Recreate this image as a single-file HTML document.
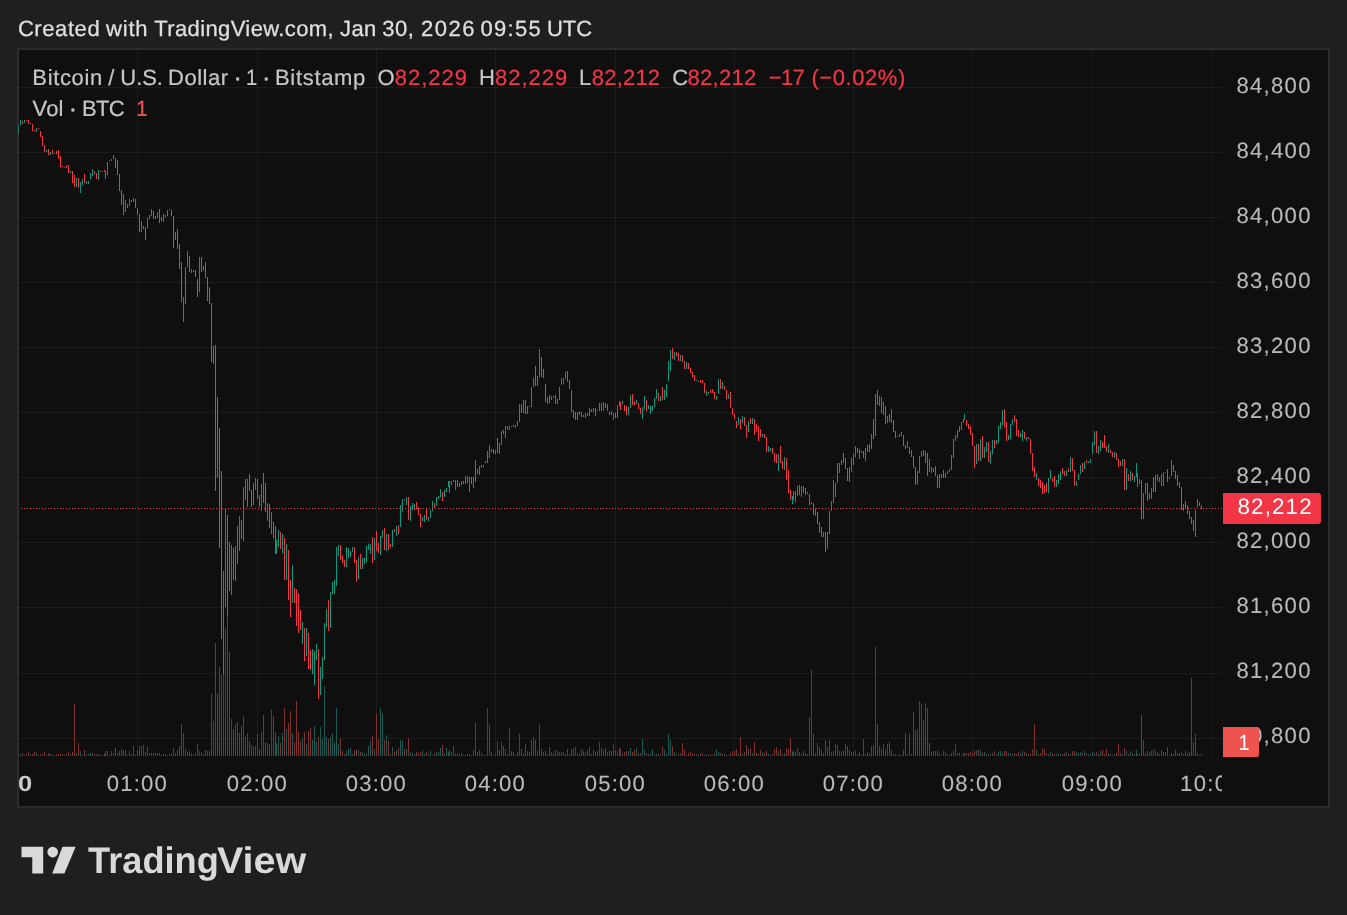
<!DOCTYPE html>
<html lang="en">
<head>
<meta charset="utf-8">
<title>BTCUSD chart - TradingView</title>
<style>
html,body{margin:0;padding:0;background:#1f1f1f;}
body{width:1347px;height:915px;overflow:hidden;position:relative;font-family:"Liberation Sans",sans-serif;}
svg{position:absolute;left:0;top:0;display:block;}
svg text{font-family:"Liberation Sans",sans-serif;white-space:pre;text-rendering:geometricPrecision;stroke-linejoin:round;}
</style>
</head>
<body>
<svg width="1347" height="915" viewBox="0 0 1347 915" role="img" aria-label="BTCUSD 1 minute candlestick chart">
<rect x="17" y="48" width="1313" height="760" fill="#2c2c2c"/>
<rect x="19" y="50" width="1309" height="756" fill="#0f0f0f"/>
<path d="M19 87.5H1222M19 152.5H1222M19 217.5H1222M19 282.5H1222M19 347.5H1222M19 412.5H1222M19 477.5H1222M19 542.5H1222M19 607.5H1222M19 673.5H1222M19 738.5H1222" stroke="#fff" stroke-opacity="0.055" stroke-width="1" fill="none" shape-rendering="crispEdges"/>
<path d="M137.5 50V757M257.5 50V757M376.5 50V757M495.5 50V757M615.5 50V757M734.5 50V757M853.5 50V757M972.5 50V757M1092.5 50V757M1211.5 50V757" stroke="#fff" stroke-opacity="0.055" stroke-width="1" fill="none" shape-rendering="crispEdges"/>
<path d="M22.5 753V756M26.5 754V756M28.5 752V756M32.5 754V756M34.5 752V756M38.5 755V756M40.5 754V756M42.5 754V756M44.5 752V756M48.5 753V756M52.5 755V756M56.5 754V756M58.5 754V756M60.5 754V756M62.5 754V756M66.5 754V756M68.5 752V756M72.5 752V756M74.5 704V756M78.5 743V756M84.5 750V756M94.5 754V756M96.5 754V756M102.5 755V756M104.5 754V756M105.5 751V756M113.5 753V756M115.5 748V756M117.5 753V756M119.5 751V756M121.5 749V756M123.5 750V756M131.5 754V756M135.5 755V756M137.5 750V756M139.5 746V756M145.5 752V756M153.5 753V756M159.5 753V756M161.5 755V756M165.5 754V756M169.5 754V756M171.5 754V756M173.5 748V756M175.5 753V756M177.5 750V756M179.5 746V756M181.5 724V756M189.5 751V756M193.5 755V756M195.5 753V756M197.5 744V756M201.5 752V756M205.5 750V756M207.5 751V756M209.5 751V756M211.5 694V756M215.5 643V756M217.5 693V756M219.5 667V756M221.5 675V756M227.5 610V756M229.5 652V756M233.5 729V756M241.5 726V756M249.5 741V756M251.5 745V756M257.5 734V756M259.5 749V756M263.5 715V756M265.5 742V756M269.5 744V756M273.5 716V756M275.5 732V756M280.5 743V756M284.5 708V756M288.5 723V756M290.5 711V756M294.5 742V756M296.5 701V756M298.5 732V756M300.5 742V756M304.5 732V756M308.5 731V756M310.5 728V756M318.5 737V756M328.5 739V756M340.5 738V756M342.5 751V756M344.5 754V756M354.5 750V756M356.5 750V756M360.5 752V756M372.5 736V756M376.5 714V756M378.5 739V756M384.5 740V756M388.5 741V756M390.5 754V756M394.5 752V756M398.5 748V756M404.5 749V756M408.5 738V756M416.5 752V756M418.5 753V756M420.5 752V756M426.5 752V756M434.5 753V756M442.5 745V756M457.5 753V756M463.5 755V756M467.5 754V756M471.5 755V756M493.5 755V756M497.5 741V756M503.5 746V756M513.5 752V756M521.5 749V756M525.5 744V756M535.5 740V756M541.5 749V756M543.5 752V756M545.5 751V756M549.5 747V756M555.5 750V756M567.5 749V756M569.5 754V756M571.5 749V756M573.5 748V756M575.5 747V756M579.5 754V756M581.5 749V756M583.5 751V756M591.5 754V756M595.5 752V756M597.5 751V756M601.5 748V756M605.5 748V756M607.5 752V756M609.5 751V756M611.5 751V756M615.5 750V756M620.5 749V756M624.5 752V756M626.5 751V756M632.5 752V756M634.5 750V756M638.5 753V756M640.5 753V756M646.5 753V756M658.5 754V756M662.5 747V756M672.5 746V756M676.5 755V756M678.5 754V756M682.5 743V756M684.5 750V756M688.5 753V756M690.5 752V756M692.5 754V756M694.5 754V756M698.5 755V756M700.5 754V756M702.5 753V756M704.5 755V756M710.5 754V756M712.5 755V756M714.5 753V756M720.5 753V756M724.5 754V756M726.5 755V756M730.5 753V756M732.5 751V756M734.5 751V756M736.5 749V756M740.5 737V756M744.5 752V756M746.5 745V756M750.5 748V756M754.5 742V756M756.5 753V756M758.5 754V756M760.5 750V756M764.5 753V756M766.5 751V756M772.5 754V756M774.5 749V756M776.5 747V756M780.5 749V756M782.5 754V756M786.5 748V756M788.5 749V756M790.5 738V756M793.5 751V756M799.5 752V756M803.5 751V756M805.5 753V756M807.5 754V756M809.5 717V756M813.5 734V756M817.5 743V756M819.5 747V756M821.5 750V756M825.5 740V756M843.5 751V756M845.5 744V756M847.5 746V756M857.5 754V756M859.5 752V756M861.5 755V756M863.5 739V756M867.5 752V756M873.5 745V756M877.5 724V756M881.5 749V756M885.5 750V756M889.5 742V756M893.5 754V756M895.5 754V756M901.5 755V756M903.5 750V756M905.5 733V756M909.5 734V756M911.5 754V756M913.5 712V756M915.5 730V756M925.5 703V756M927.5 708V756M929.5 743V756M931.5 752V756M935.5 751V756M937.5 750V756M941.5 755V756M943.5 751V756M966.5 753V756M968.5 753V756M970.5 752V756M972.5 753V756M974.5 751V756M978.5 750V756M982.5 753V756M988.5 754V756M994.5 751V756M1004.5 751V756M1006.5 751V756M1014.5 753V756M1016.5 754V756M1018.5 752V756M1024.5 752V756M1028.5 754V756M1030.5 754V756M1032.5 749V756M1034.5 724V756M1038.5 754V756M1040.5 753V756M1042.5 748V756M1044.5 749V756M1046.5 753V756M1052.5 754V756M1054.5 754V756M1062.5 754V756M1064.5 753V756M1068.5 754V756M1072.5 751V756M1074.5 751V756M1082.5 753V756M1086.5 753V756M1096.5 752V756M1102.5 750V756M1104.5 754V756M1106.5 749V756M1110.5 754V756M1112.5 755V756M1116.5 753V756M1118.5 744V756M1120.5 753V756M1124.5 748V756M1128.5 754V756M1132.5 753V756M1137.5 754V756M1141.5 715V756M1147.5 751V756M1153.5 749V756M1161.5 750V756M1167.5 747V756M1173.5 754V756M1175.5 750V756M1177.5 753V756M1179.5 753V756M1181.5 752V756M1185.5 751V756M1187.5 753V756M1189.5 752V756M1191.5 678V756M1193.5 742V756M1199.5 755V756M1201.5 754V756" stroke="#803230" stroke-width="1" fill="none" shape-rendering="crispEdges"/>
<path d="M18.5 755V756M20.5 754V756M24.5 755V756M30.5 754V756M36.5 753V756M46.5 755V756M50.5 754V756M54.5 755V756M64.5 755V756M70.5 754V756M76.5 753V756M80.5 751V756M82.5 755V756M86.5 754V756M88.5 754V756M90.5 753V756M92.5 753V756M98.5 754V756M100.5 755V756M107.5 751V756M109.5 755V756M111.5 751V756M125.5 750V756M127.5 755V756M129.5 751V756M133.5 746V756M141.5 746V756M143.5 745V756M147.5 747V756M149.5 753V756M151.5 753V756M155.5 753V756M157.5 753V756M163.5 754V756M167.5 755V756M183.5 733V756M185.5 749V756M187.5 752V756M191.5 753V756M199.5 751V756M203.5 754V756M213.5 721V756M223.5 660V756M225.5 628V756M231.5 719V756M235.5 724V756M237.5 722V756M239.5 733V756M243.5 716V756M245.5 737V756M247.5 733V756M253.5 746V756M255.5 746V756M261.5 732V756M267.5 743V756M271.5 710V756M276.5 743V756M278.5 736V756M282.5 733V756M286.5 729V756M292.5 733V756M302.5 738V756M306.5 744V756M312.5 740V756M314.5 726V756M316.5 742V756M320.5 727V756M322.5 739V756M324.5 686V756M326.5 737V756M330.5 737V756M332.5 733V756M334.5 742V756M336.5 708V756M338.5 744V756M346.5 751V756M348.5 749V756M350.5 748V756M352.5 754V756M358.5 750V756M362.5 752V756M364.5 754V756M366.5 753V756M368.5 746V756M370.5 741V756M374.5 749V756M380.5 708V756M382.5 713V756M386.5 735V756M392.5 747V756M396.5 750V756M400.5 740V756M402.5 741V756M406.5 749V756M410.5 752V756M412.5 753V756M414.5 754V756M422.5 750V756M424.5 754V756M428.5 754V756M430.5 751V756M432.5 755V756M436.5 752V756M438.5 752V756M440.5 748V756M444.5 753V756M446.5 748V756M448.5 752V756M449.5 750V756M451.5 752V756M453.5 746V756M455.5 753V756M459.5 754V756M461.5 753V756M465.5 755V756M469.5 754V756M473.5 750V756M475.5 723V756M477.5 752V756M479.5 750V756M481.5 753V756M483.5 755V756M485.5 755V756M487.5 708V756M489.5 724V756M491.5 752V756M495.5 753V756M499.5 750V756M501.5 742V756M505.5 749V756M507.5 754V756M509.5 728V756M511.5 751V756M515.5 755V756M517.5 752V756M519.5 734V756M523.5 753V756M527.5 751V756M529.5 752V756M531.5 740V756M533.5 737V756M537.5 751V756M539.5 724V756M547.5 754V756M551.5 752V756M553.5 753V756M557.5 751V756M559.5 752V756M561.5 752V756M563.5 752V756M565.5 754V756M577.5 753V756M585.5 752V756M587.5 750V756M589.5 747V756M593.5 750V756M599.5 742V756M603.5 750V756M613.5 744V756M617.5 751V756M619.5 748V756M622.5 754V756M628.5 751V756M630.5 748V756M636.5 748V756M642.5 739V756M644.5 750V756M648.5 754V756M650.5 754V756M652.5 749V756M654.5 755V756M656.5 754V756M660.5 754V756M664.5 750V756M666.5 754V756M668.5 734V756M670.5 740V756M674.5 752V756M680.5 753V756M686.5 755V756M696.5 754V756M706.5 754V756M708.5 755V756M716.5 749V756M718.5 752V756M722.5 754V756M728.5 755V756M738.5 753V756M742.5 754V756M748.5 749V756M752.5 753V756M762.5 752V756M768.5 754V756M770.5 755V756M778.5 751V756M784.5 753V756M792.5 752V756M795.5 752V756M797.5 748V756M801.5 754V756M811.5 670V756M815.5 753V756M823.5 753V756M827.5 747V756M829.5 740V756M831.5 752V756M833.5 751V756M835.5 744V756M837.5 745V756M839.5 751V756M841.5 751V756M849.5 750V756M851.5 752V756M853.5 752V756M855.5 751V756M865.5 754V756M869.5 753V756M871.5 746V756M875.5 647V756M879.5 746V756M883.5 744V756M887.5 744V756M891.5 750V756M897.5 755V756M899.5 754V756M907.5 754V756M917.5 729V756M919.5 701V756M921.5 704V756M923.5 720V756M933.5 751V756M939.5 753V756M945.5 752V756M947.5 754V756M949.5 755V756M951.5 753V756M953.5 751V756M955.5 744V756M957.5 753V756M959.5 753V756M961.5 755V756M963.5 753V756M964.5 753V756M976.5 750V756M980.5 750V756M984.5 752V756M986.5 754V756M990.5 754V756M992.5 753V756M996.5 754V756M998.5 752V756M1000.5 751V756M1002.5 753V756M1008.5 753V756M1010.5 753V756M1012.5 754V756M1020.5 753V756M1022.5 751V756M1026.5 753V756M1036.5 750V756M1048.5 754V756M1050.5 752V756M1056.5 754V756M1058.5 753V756M1060.5 754V756M1066.5 752V756M1070.5 754V756M1076.5 752V756M1078.5 753V756M1080.5 752V756M1084.5 751V756M1088.5 754V756M1090.5 754V756M1092.5 752V756M1094.5 753V756M1098.5 754V756M1100.5 751V756M1108.5 754V756M1114.5 754V756M1122.5 754V756M1126.5 751V756M1130.5 751V756M1134.5 754V756M1136.5 750V756M1139.5 754V756M1143.5 740V756M1145.5 753V756M1149.5 752V756M1151.5 751V756M1155.5 751V756M1157.5 752V756M1159.5 754V756M1163.5 752V756M1165.5 752V756M1169.5 755V756M1171.5 753V756M1183.5 754V756M1195.5 734V756M1197.5 753V756" stroke="#1b5a54" stroke-width="1" fill="none" shape-rendering="crispEdges"/>
<path d="M18.5 125V134" stroke="#177563" stroke-width="1" fill="none" shape-rendering="crispEdges"/>
<path d="M22.5 121V124M26.5 120V121M28.5 120V124M32.5 124V131M34.5 130V131M38.5 128V129M40.5 131V137M42.5 136V146M44.5 145V152M48.5 149V155M52.5 150V154M56.5 151V154M58.5 150V159M60.5 156V167M62.5 166V167M66.5 165V168M68.5 165V173M72.5 171V183M74.5 175V187M78.5 178V188M84.5 174V183M94.5 171V174M96.5 173V179M102.5 171V172M104.5 170V172M105.5 171V179M113.5 155V159M115.5 158V168M117.5 160V175M119.5 174V191M121.5 190V205M123.5 194V215M131.5 200V202M135.5 199V208M137.5 208V215M139.5 214V232M145.5 227V240M153.5 211V219M159.5 209V223M161.5 217V221M165.5 215V217M169.5 209V210M171.5 210V216M173.5 216V248M175.5 232V240M177.5 229V249M179.5 244V269M181.5 262V302M189.5 256V272M193.5 270V272M195.5 270V277M197.5 279V297M201.5 257V272M205.5 262V278M207.5 277V301M209.5 287V304M211.5 303V362M215.5 345V491M217.5 397V478M219.5 428V548M221.5 471V639M227.5 515V615M229.5 542V591M233.5 548V580M241.5 520V539M249.5 474V491M251.5 490V507M257.5 479V499M259.5 495V507M263.5 473V503M265.5 483V512M269.5 504V528M273.5 522V538M275.5 526V554M280.5 532V549M284.5 538V580M288.5 550V600M290.5 580V617M294.5 588V603M296.5 589V626M298.5 593V633M300.5 610V630M304.5 628V661M308.5 633V669M310.5 650V670M318.5 649V699M328.5 600V631M340.5 545V560M342.5 555V563M344.5 560V567M354.5 547V563M356.5 560V582M360.5 554V569M372.5 537V563M376.5 531V551M378.5 543V553M384.5 528V550M388.5 534V550M390.5 544V547M394.5 529V532M398.5 525V534M404.5 499V500M408.5 497V520M416.5 502V509M418.5 507V515M420.5 514V527M426.5 508V520M434.5 503V508M442.5 492V501M457.5 480V487M463.5 481V484M467.5 476V483M471.5 477V484M493.5 449V454M497.5 438V453M503.5 430V434M513.5 425V427M521.5 404V413M525.5 400V414M535.5 366V386M541.5 357V377M543.5 369V378M545.5 384V402M549.5 395V403M555.5 395V404M567.5 371V382M569.5 380V389M571.5 390V412M573.5 410V418M575.5 412V420M579.5 411V415M581.5 412V417M583.5 415V417M591.5 409V412M595.5 408V416M597.5 410V411M601.5 403V411M605.5 403V408M607.5 404V411M609.5 412V415M611.5 411V415M615.5 413V418M620.5 402V410M624.5 405V411M626.5 406V415M632.5 394V405M634.5 401V405M638.5 403V409M640.5 408V414M646.5 400V411M658.5 393V401M662.5 387V400M672.5 348V359M676.5 352V356M678.5 353V361M682.5 355V362M684.5 361V369M688.5 363V369M690.5 368V373M692.5 372V377M694.5 375V381M698.5 381V382M700.5 380V383M702.5 380V383M704.5 383V393M710.5 390V393M712.5 389V393M714.5 392V399M720.5 379V389M724.5 386V390M726.5 390V399M730.5 392V408M732.5 408V415M734.5 414V419M736.5 421V428M740.5 419V429M744.5 417V426M746.5 425V438M750.5 418V424M754.5 419V435M756.5 424V432M758.5 426V441M760.5 429V437M764.5 434V438M766.5 437V452M772.5 448V454M774.5 453V462M776.5 454V463M780.5 446V463M782.5 461V469M786.5 458V480M788.5 470V493M790.5 490V500M793.5 491V500M799.5 485V495M803.5 486V493M805.5 488V495M807.5 492V494M809.5 494V505M813.5 503V515M817.5 512V524M819.5 522V533M821.5 527V537M825.5 532V552M843.5 453V463M845.5 458V469M847.5 468V481M857.5 448V453M859.5 449V459M861.5 451V453M863.5 451V458M867.5 445V452M873.5 419V439M877.5 390V405M881.5 397V413M885.5 406V424M889.5 414V422M893.5 420V432M895.5 431V438M901.5 432V436M903.5 435V446M905.5 445V449M909.5 447V454M911.5 450V457M913.5 456V468M915.5 467V485M925.5 451V463M927.5 453V476M929.5 459V472M931.5 467V473M935.5 466V476M937.5 475V488M941.5 474V478M943.5 470V478M966.5 420V426M968.5 424V429M970.5 426V435M972.5 433V446M974.5 446V468M978.5 444V461M982.5 436V458M988.5 442V462M994.5 440V448M1004.5 409V427M1006.5 422V441M1014.5 415V422M1016.5 419V436M1018.5 430V437M1024.5 432V439M1028.5 437V439M1030.5 439V454M1032.5 453V471M1034.5 467V477M1038.5 478V486M1040.5 480V488M1042.5 482V494M1044.5 485V493M1046.5 483V492M1052.5 478V482M1054.5 476V487M1062.5 468V474M1064.5 471V476M1068.5 468V472M1072.5 458V471M1074.5 470V486M1082.5 463V472M1086.5 460V463M1096.5 431V453M1102.5 442V448M1104.5 435V448M1106.5 446V452M1110.5 450V453M1112.5 452V457M1116.5 453V460M1118.5 459V467M1120.5 461V466M1124.5 459V490M1128.5 474V481M1132.5 473V480M1137.5 473V487M1141.5 480V519M1147.5 483V501M1153.5 477V492M1161.5 474V486M1167.5 469V482M1173.5 465V472M1175.5 471V479M1177.5 475V486M1179.5 482V488M1181.5 487V510M1185.5 501V509M1187.5 505V514M1189.5 511V519M1191.5 517V524M1193.5 520V531M1199.5 502V506M1201.5 505V509" stroke="#f23645" stroke-width="1" fill="none" shape-rendering="crispEdges"/>
<path d="M20.5 120V125M24.5 120V123M30.5 123V124M36.5 128V132M46.5 150V152M50.5 152V155M54.5 153V154M64.5 167V168M70.5 171V173M76.5 178V187M80.5 182V193M82.5 179V185M86.5 181V184M88.5 181V184M90.5 173V179M92.5 169V176M98.5 170V180M100.5 171V172M107.5 162V175M109.5 160V161M111.5 159V161M125.5 200V212M127.5 204V208M129.5 199V206M133.5 198V202M141.5 221V232M143.5 226V229M147.5 218V228M149.5 215V219M151.5 209V216M155.5 216V219M157.5 212V218M163.5 214V222M167.5 210V216M183.5 297V322M185.5 267V304M187.5 251V267M191.5 269V273M199.5 257V292M203.5 266V271M213.5 346V364M223.5 571V674M225.5 508V607M231.5 545V595M235.5 546V581M237.5 526V564M239.5 516V551M243.5 487V541M245.5 479V500M247.5 479V507M253.5 483V505M255.5 478V490M261.5 484V511M267.5 503V521M271.5 512V534M276.5 540V554M278.5 530V547M282.5 534V553M286.5 544V580M292.5 565V603M302.5 622V644M306.5 628V656M312.5 649V674M314.5 651V685M316.5 644V660M320.5 667V695M322.5 657V679M324.5 623V660M326.5 609V627M330.5 592V628M332.5 582V594M334.5 580V594M336.5 547V586M338.5 545V556M346.5 547V567M348.5 548V558M350.5 551V557M352.5 547V552M358.5 557V579M362.5 558V569M364.5 558V564M366.5 546V562M368.5 544V550M370.5 544V554M374.5 538V560M380.5 536V555M382.5 530V538M386.5 534V551M392.5 530V547M396.5 526V536M400.5 505V527M402.5 499V512M406.5 497V505M410.5 506V521M412.5 503V510M414.5 504V510M422.5 517V521M424.5 515V522M428.5 517V521M430.5 510V518M432.5 501V511M436.5 497V506M438.5 496V499M440.5 489V497M444.5 490V497M446.5 488V492M448.5 481V487M449.5 481V493M451.5 481V485M453.5 480V482M455.5 480V490M459.5 483V487M461.5 481V485M465.5 476V484M469.5 477V492M473.5 477V488M475.5 460V482M477.5 469V474M479.5 466V475M481.5 465V468M483.5 465V467M485.5 461V463M487.5 451V463M489.5 445V458M491.5 449V452M495.5 450V454M499.5 443V454M501.5 431V445M505.5 426V438M507.5 426V430M509.5 426V430M511.5 426V427M515.5 425V428M517.5 421V426M519.5 404V422M523.5 400V413M527.5 406V414M529.5 406V407M531.5 387V407M533.5 378V387M537.5 376V386M539.5 349V377M547.5 397V404M551.5 396V400M553.5 396V398M557.5 399V404M559.5 387V400M561.5 378V385M563.5 378V384M565.5 372V379M577.5 412V420M585.5 413V418M587.5 413V416M589.5 408V416M593.5 408V412M599.5 403V411M603.5 402V411M613.5 413V420M617.5 405V418M619.5 401V406M622.5 401V404M628.5 407V415M630.5 395V408M636.5 400V404M642.5 407V419M644.5 396V409M648.5 405V409M650.5 406V414M652.5 406V411M654.5 398V407M656.5 389V399M660.5 396V401M664.5 390V400M666.5 384V397M668.5 361V381M670.5 350V371M674.5 352V360M680.5 355V361M686.5 362V369M696.5 380V381M706.5 391V396M708.5 392V394M716.5 396V400M718.5 379V394M722.5 382V389M728.5 394V399M738.5 417V425M742.5 416V423M748.5 421V432M752.5 418V424M762.5 434V437M768.5 446V452M770.5 448V451M778.5 454V471M784.5 457V470M792.5 496V504M795.5 491V502M797.5 486V496M801.5 486V497M811.5 502V504M815.5 508V516M823.5 532V537M827.5 532V549M829.5 511V534M831.5 501V511M833.5 480V503M835.5 483V497M837.5 463V483M839.5 463V473M841.5 460V465M849.5 467V482M851.5 458V472M853.5 454V465M855.5 446V457M865.5 448V461M869.5 444V452M871.5 434V449M875.5 394V436M879.5 396V406M883.5 402V415M887.5 416V423M891.5 409V423M897.5 436V437M899.5 434V437M907.5 441V448M917.5 471V484M919.5 456V473M921.5 451V457M923.5 450V456M933.5 468V472M939.5 474V488M945.5 473V478M947.5 471V474M949.5 469V472M951.5 455V470M953.5 439V458M955.5 435V441M957.5 430V438M959.5 426V432M961.5 422V430M963.5 419V423M964.5 414V420M976.5 444V464M980.5 439V461M984.5 447V458M986.5 442V452M990.5 451V464M992.5 440V454M996.5 440V444M998.5 426V443M1000.5 422V429M1002.5 410V425M1008.5 435V440M1010.5 424V439M1012.5 419V425M1020.5 433V437M1022.5 430V441M1026.5 437V441M1036.5 473V480M1048.5 478V493M1050.5 470V479M1056.5 480V487M1058.5 474V484M1060.5 471V480M1066.5 470V476M1070.5 457V472M1076.5 481V486M1078.5 474V480M1080.5 465V474M1084.5 462V469M1088.5 461V463M1090.5 459V463M1092.5 442V454M1094.5 431V445M1098.5 446V454M1100.5 440V451M1108.5 444V453M1114.5 452V458M1122.5 459V466M1126.5 468V490M1130.5 471V481M1134.5 476V482M1136.5 463V477M1139.5 479V484M1143.5 493V519M1145.5 483V494M1149.5 493V499M1151.5 488V499M1155.5 475V492M1157.5 474V481M1159.5 477V482M1163.5 472V486M1165.5 472V473M1169.5 477V479M1171.5 460V476M1183.5 504V511M1195.5 510V537M1197.5 499V507" stroke="#089981" stroke-width="1" fill="none" shape-rendering="crispEdges"/>
<path d="M21 508.5H1222" stroke="#f23645" stroke-width="1" stroke-dasharray="1 2" fill="none" shape-rendering="crispEdges"/>
<g id="header"><text y="36.2"><tspan x="17.9" font-size="22" fill="#dfdfdf" letter-spacing="0.583" stroke="#dfdfdf" stroke-width="0.3">Created</tspan> <tspan x="106.0" font-size="22" fill="#dfdfdf" letter-spacing="0.8" stroke="#dfdfdf" stroke-width="0.3">with</tspan> <tspan x="154.23" font-size="22" fill="#dfdfdf" letter-spacing="0.385" stroke="#dfdfdf" stroke-width="0.3">TradingView.com,</tspan> <tspan x="340.03" font-size="22" fill="#dfdfdf" letter-spacing="0.42" stroke="#dfdfdf" stroke-width="0.3">Jan</tspan> <tspan x="382.3" font-size="22" fill="#dfdfdf" letter-spacing="0.551" stroke="#dfdfdf" stroke-width="0.3">30,</tspan> <tspan x="420.9" font-size="22" fill="#dfdfdf" letter-spacing="1.567" stroke="#dfdfdf" stroke-width="0.3">2026</tspan> <tspan x="480.42" font-size="22" fill="#dfdfdf" letter-spacing="1.345" stroke="#dfdfdf" stroke-width="0.3">09:55</tspan> <tspan x="547.07" font-size="22" fill="#dfdfdf" letter-spacing="-0.111" stroke="#dfdfdf" stroke-width="0.3">UTC</tspan></text></g>
<g id="legend"><text y="84.8"><tspan x="32.32" font-size="22" fill="#c6c6c6" letter-spacing="0.646" stroke="#c6c6c6" stroke-width="0.22">Bitcoin</tspan> <tspan x="108.35" font-size="22" fill="#c6c6c6" stroke="#c6c6c6" stroke-width="0.22">/</tspan> <tspan x="120.37" font-size="22" fill="#c6c6c6" letter-spacing="-0.09" stroke="#c6c6c6" stroke-width="0.22">U.S.</tspan> <tspan x="168.12" font-size="22" fill="#c6c6c6" letter-spacing="0.484" stroke="#c6c6c6" stroke-width="0.22">Dollar</tspan> <tspan x="233.89" font-size="22" fill="#c6c6c6" stroke="#c6c6c6" stroke-width="0.8">·</tspan> <tspan x="245.88" font-size="22" fill="#c6c6c6" textLength="11.27" lengthAdjust="spacingAndGlyphs" stroke="#c6c6c6" stroke-width="0.22">1</tspan> <tspan x="262.49" font-size="22" fill="#c6c6c6" stroke="#c6c6c6" stroke-width="0.8">·</tspan> <tspan x="275.02" font-size="22" fill="#c6c6c6" letter-spacing="0.675" stroke="#c6c6c6" stroke-width="0.22">Bitstamp</tspan>  <tspan x="377.55" font-size="22" fill="#c6c6c6" stroke="#c6c6c6" stroke-width="0.22">O</tspan><tspan x="394.7" font-size="22" fill="#f23645" letter-spacing="0.989" stroke="#f23645" stroke-width="0.22">82,229</tspan> <tspan x="479.12" font-size="22" fill="#c6c6c6" stroke="#c6c6c6" stroke-width="0.22">H</tspan><tspan x="495.0" font-size="22" fill="#f23645" letter-spacing="0.969" stroke="#f23645" stroke-width="0.22">82,229</tspan> <tspan x="578.89" font-size="22" fill="#c6c6c6" stroke="#c6c6c6" stroke-width="0.22">L</tspan><tspan x="591.8" font-size="22" fill="#f23645" letter-spacing="0.195" stroke="#f23645" stroke-width="0.22">82,212</tspan> <tspan x="672.15" font-size="22" fill="#c6c6c6" stroke="#c6c6c6" stroke-width="0.22">C</tspan><tspan x="687.6" font-size="22" fill="#f23645" letter-spacing="0.275" stroke="#f23645" stroke-width="0.22">82,212</tspan> <tspan x="768.7" font-size="22" fill="#f23645" letter-spacing="-0.612" stroke="#f23645" stroke-width="0.22">−17</tspan> <tspan x="811.46" font-size="22" fill="#f23645" letter-spacing="0.556" stroke="#f23645" stroke-width="0.22">(−0.02%)</tspan></text><text y="115.9"><tspan x="32.55" font-size="22" fill="#c6c6c6" letter-spacing="0.129" stroke="#c6c6c6" stroke-width="0.22">Vol</tspan> <tspan x="69.19" font-size="22" fill="#c6c6c6" stroke="#c6c6c6" stroke-width="0.8">·</tspan> <tspan x="81.92" font-size="22" fill="#c6c6c6" letter-spacing="-0.608" stroke="#c6c6c6" stroke-width="0.22">BTC</tspan> <tspan x="136.18" font-size="22" fill="#ef5350" textLength="11.27" lengthAdjust="spacingAndGlyphs" stroke="#ef5350" stroke-width="0.22">1</tspan></text></g>
<g id="price-axis">
<text x="1236.4" y="93.15" font-size="22.1" fill="#b9b9b9" letter-spacing="1.301" stroke="#b9b9b9" stroke-width="0.12">84,800</text>
<text x="1236.4" y="158.15" font-size="22.1" fill="#b9b9b9" letter-spacing="1.301" stroke="#b9b9b9" stroke-width="0.12">84,400</text>
<text x="1236.4" y="223.15" font-size="22.1" fill="#b9b9b9" letter-spacing="1.301" stroke="#b9b9b9" stroke-width="0.12">84,000</text>
<text x="1236.4" y="288.15" font-size="22.1" fill="#b9b9b9" letter-spacing="1.301" stroke="#b9b9b9" stroke-width="0.12">83,600</text>
<text x="1236.4" y="353.15" font-size="22.1" fill="#b9b9b9" letter-spacing="1.301" stroke="#b9b9b9" stroke-width="0.12">83,200</text>
<text x="1236.4" y="418.15" font-size="22.1" fill="#b9b9b9" letter-spacing="1.301" stroke="#b9b9b9" stroke-width="0.12">82,800</text>
<text x="1236.4" y="483.15" font-size="22.1" fill="#b9b9b9" letter-spacing="1.301" stroke="#b9b9b9" stroke-width="0.12">82,400</text>
<text x="1236.4" y="548.15" font-size="22.1" fill="#b9b9b9" letter-spacing="1.301" stroke="#b9b9b9" stroke-width="0.12">82,000</text>
<text x="1236.4" y="613.15" font-size="22.1" fill="#b9b9b9" letter-spacing="1.301" stroke="#b9b9b9" stroke-width="0.12">81,600</text>
<text x="1236.4" y="678.15" font-size="22.1" fill="#b9b9b9" letter-spacing="1.301" stroke="#b9b9b9" stroke-width="0.12">81,200</text>
<text x="1236.4" y="743.15" font-size="22.1" fill="#b9b9b9" letter-spacing="1.301" stroke="#b9b9b9" stroke-width="0.12">80,800</text>
</g>
<clipPath id="tc"><rect x="19" y="757" width="1203" height="49"/></clipPath>
<g id="time-axis" clip-path="url(#tc)">
<text x="106.81" y="791.0" font-size="22.1" fill="#b9b9b9" letter-spacing="1.149" stroke="#b9b9b9" stroke-width="0.12">01:00</text>
<text x="226.81" y="791.0" font-size="22.1" fill="#b9b9b9" letter-spacing="1.149" stroke="#b9b9b9" stroke-width="0.12">02:00</text>
<text x="345.81" y="791.0" font-size="22.1" fill="#b9b9b9" letter-spacing="1.149" stroke="#b9b9b9" stroke-width="0.12">03:00</text>
<text x="464.81" y="791.0" font-size="22.1" fill="#b9b9b9" letter-spacing="1.149" stroke="#b9b9b9" stroke-width="0.12">04:00</text>
<text x="584.81" y="791.0" font-size="22.1" fill="#b9b9b9" letter-spacing="1.149" stroke="#b9b9b9" stroke-width="0.12">05:00</text>
<text x="703.81" y="791.0" font-size="22.1" fill="#b9b9b9" letter-spacing="1.149" stroke="#b9b9b9" stroke-width="0.12">06:00</text>
<text x="822.81" y="791.0" font-size="22.1" fill="#b9b9b9" letter-spacing="1.149" stroke="#b9b9b9" stroke-width="0.12">07:00</text>
<text x="941.81" y="791.0" font-size="22.1" fill="#b9b9b9" letter-spacing="1.149" stroke="#b9b9b9" stroke-width="0.12">08:00</text>
<text x="1061.81" y="791.0" font-size="22.1" fill="#b9b9b9" letter-spacing="1.149" stroke="#b9b9b9" stroke-width="0.12">09:00</text>
<text x="1180.09" y="791.0" font-size="22.1" fill="#b9b9b9" letter-spacing="1.33" stroke="#b9b9b9" stroke-width="0.12">10:00</text>
<text x="3.75" y="791.0" font-size="22" fill="#cbcbcb" font-weight="bold" textLength="28.45" lengthAdjust="spacingAndGlyphs">30</text>
</g>
<g id="volume-label"><path d="M1223 727H1257a2 2 0 0 1 2 2V755a2 2 0 0 1 -2 2H1223Z" fill="#ef5350"/>
<text x="1238.46" y="750.0" font-size="22" fill="#ffffff" textLength="11.03" lengthAdjust="spacingAndGlyphs">1</text>
</g>
<g id="price-label"><path d="M1223 493H1318a3 3 0 0 1 3 3V521a3 3 0 0 1 -3 3H1223Z" fill="#f23645"/>
<text x="1237.5" y="514.0" font-size="22.3" fill="#ffffff" letter-spacing="1.18">82,212</text>
</g>
<g id="logo" fill="#d9d9d9"><path d="M21.5 846.8H43.2V873.5H32.3V857.3H21.5Z"/><circle cx="52.7" cy="852.1" r="5.3"/><path d="M62.5 846.8H75.7L64.4 873.5H52.2Z"/><text y="872.7"><tspan x="88.12" font-size="37" fill="#d9d9d9" font-weight="bold" textLength="130.69" lengthAdjust="spacingAndGlyphs">Trading</tspan><tspan x="216.95" font-size="37" fill="#d9d9d9" font-weight="bold" textLength="89.39" lengthAdjust="spacingAndGlyphs">View</tspan></text></g>
</svg>
</body>
</html>
